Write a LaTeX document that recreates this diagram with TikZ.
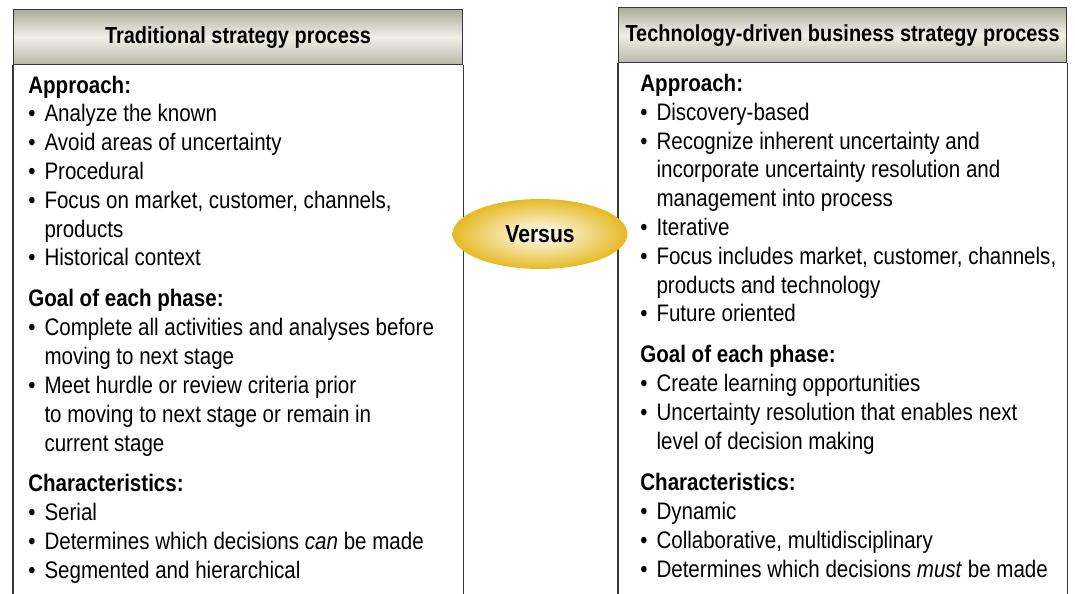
\documentclass[tikz,border=0pt]{standalone}
\usepackage{fontspec}
\setmainfont[FakeStretch=0.86]{Liberation Sans}
\usetikzlibrary{calc}
\usetikzlibrary{shapes.geometric}

\definecolor{headdark}{RGB}{172,172,154}
\definecolor{headlight}{RGB}{240,240,232}
\definecolor{versusgold}{RGB}{230,186,36}
\definecolor{framegray}{RGB}{55,55,55}

\newcommand{\bul}{\makebox[9.2pt][l]{\textbullet}}
\newcommand{\cont}{\hspace*{9.2pt}}

\begin{document}
\begin{tikzpicture}[
  x=0.02cm, y=-0.02cm,
  line join=round,
  frame/.style={draw=framegray, line width=0.7pt},
  header/.style={frame, top color=headdark, bottom color=headdark!85, middle color=headlight,
    anchor=north west, minimum width=8.98cm, minimum height=1.1cm, inner sep=0pt,
    font=\fontsize{13.2}{16}\selectfont\bfseries},
  % base anchor of a multi-line node = baseline of its last line
  section/.style={anchor=base west, inner sep=0pt, align=left,
    font=\fontsize{13.6}{16.4}\selectfont}
]
\useasboundingbox (0,0) rectangle (1075,594);
\clip (0,0) rectangle (1075,594);

% the two columns
\node [header] (lhead) at (13,9) {Traditional strategy process};
\node [header, minimum width=8.96cm] (rhead) at (618,7) {Technology-driven business strategy process};
\draw [frame] (lhead.south west) -- ++(0,560);
\draw [frame] (lhead.south east) -- ++(0,560);
\draw [frame] (rhead.south west) -- ++(0,560);
\draw [frame] (rhead.south east) -- ++(0,560);

% left column
\node [section] (lapp) at (28,266) {\textbf{Approach:}\\
  \bul Analyze the known\\
  \bul Avoid areas of uncertainty\\
  \bul Procedural\\
  \bul Focus on market, customer, channels,\\
  \cont products\\
  \bul Historical context};
\node [section] (lgoal) at (28,451) {\textbf{Goal of each phase:}\\
  \bul Complete all activities and analyses before\\
  \cont moving to next stage\\
  \bul Meet hurdle or review criteria prior\\
  \cont to moving to next stage or remain in\\
  \cont current stage};
\node [section] (lchar) at (28,578) {\textbf{Characteristics:}\\
  \bul Serial\\
  \bul Determines which decisions \textit{can} be made\\
  \bul Segmented and hierarchical};

% right column
\node [section] (rapp) at (640,322) {\textbf{Approach:}\\
  \bul Discovery-based\\
  \bul Recognize inherent uncertainty and\\
  \cont incorporate uncertainty resolution and\\
  \cont management into process\\
  \bul Iterative\\
  \bul Focus includes market, customer, channels,\\
  \cont products and technology\\
  \bul Future oriented};
\node [section] (rgoal) at (640,449) {\textbf{Goal of each phase:}\\
  \bul Create learning opportunities\\
  \bul Uncertainty resolution that enables next\\
  \cont level of decision making};
\node [section] (rchar) at (640,577) {\textbf{Characteristics:}\\
  \bul Dynamic\\
  \bul Collaborative, multidisciplinary\\
  \bul Determines which decisions \textit{must} be made};

\node [ellipse, inner color=white, outer color=versusgold,
  minimum width=3.5cm, minimum height=1.4cm,
  font=\fontsize{14}{17}\selectfont\bfseries] (versus) at (540,234) {Versus};

\end{tikzpicture}
\end{document}
